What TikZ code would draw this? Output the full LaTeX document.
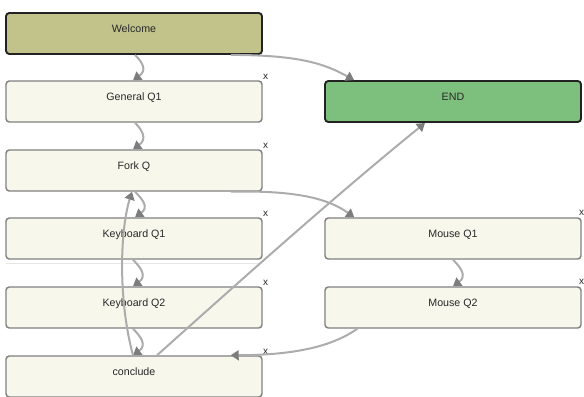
\documentclass[tikz,border=0pt]{standalone}
\usepackage{fontspec}
\setmainfont{Liberation Sans}
\usetikzlibrary{arrows.meta,calc}

\definecolor{welfill}{RGB}{194,194,139}
\definecolor{endfill}{RGB}{125,191,125}
\definecolor{qfill}{RGB}{247,247,236}
\definecolor{qborder}{RGB}{128,128,128}
\definecolor{dborder}{RGB}{34,34,34}
\definecolor{linkgray}{RGB}{172,172,172}
\definecolor{tipgray}{RGB}{125,125,125}
\definecolor{txt}{RGB}{40,40,40}
\definecolor{sepgray}{RGB}{230,230,230}

\begin{document}
\begin{tikzpicture}[x=0.75pt,y=-0.75pt,
  box/.style={rectangle, rounded corners=2.5pt, minimum width=192pt,
    minimum height=30.75pt, inner sep=0pt, font=\fontsize{8}{9}\selectfont,
    text=txt, text height=5pt, text depth=5.8pt},
  qbox/.style={box, draw=qborder, fill=qfill, line width=1.1pt},
  kbox/.style={box, draw=dborder, line width=1.4pt},
  conn/.style={draw=linkgray, line width=1.5pt,
    -{Triangle[length=6pt,width=7.5pt,color=tipgray]}},
  xmark/.style={font=\fontsize{7.5}{8}\selectfont, text=txt, inner sep=0pt},
  sepline/.style={draw=sepgray, line width=0.8pt}
]
\useasboundingbox (0,0) rectangle (584,396);

% question boxes
\node[kbox, fill=welfill] (wel) at (134,33.5) {Welcome};
\node[qbox] (gq)  at (134,101.5) {General Q1};
\node[qbox] (fq)  at (134,170.5) {Fork Q};
\node[qbox] (kq1) at (134,238.5) {Keyboard Q1};
\node[qbox] (kq2) at (134,307.5) {Keyboard Q2};
\node[qbox] (con) at (134,376.5) {conclude};
\node[kbox, fill=endfill] (fin) at (453,101.5) {END};
\node[qbox] (mq1) at (453,238.5) {Mouse Q1};
\node[qbox] (mq2) at (453,307.5) {Mouse Q2};

% delete marks
\foreach \n in {gq,fq,kq1,kq2,con}
  \node[xmark] (x\n) at ($(\n.north east)+(3,-3)$) {x};
\foreach \n in {mq1,mq2}
  \node[xmark] (x\n) at ($(\n.north east)+(0,-4)$) {x};

% faint rule under Keyboard Q1
\draw[sepline] ($(kq1.south west)+(1,4)$) -- ($(kq1.south east)+(-2,4)$);

% links
\draw[conn] ($(wel.south)+(1,0)$) .. controls +(8,8) and +(14,-10) .. ($(gq.north)+(-1,0)$);
\draw[conn] ($(gq.south)+(1,0)$) .. controls +(8,8) and +(14,-10) .. ($(fq.north)+(-1,0)$);
\draw[conn] ($(fq.south)+(1,0)$) .. controls +(8,8) and +(14,-10) .. ($(kq1.north)+(1,0)$);
\draw[conn] ($(kq1.south)+(-1,0)$) .. controls +(8,8) and +(14,-10) .. ($(kq2.north)+(-1,0)$);
\draw[conn] ($(kq2.south)+(-1,0)$) .. controls +(8,8) and +(14,-10) .. ($(con.north)+(-1,0)$);
\draw[conn] ($(mq1.south)+(0,0)$) .. controls +(8,8) and +(14,-10) .. ($(mq2.north)+(0,0)$);

\draw[conn] ($(con.north)+(-1,0)$) .. controls (118,300) and (120,230) .. ($(fq.south)+(-2,0)$);
\draw[conn] ($(con.north)+(23,0)$) .. controls (230,290) and (330,200) .. ($(fin.south)+(-28,0)$);
\draw[conn] ($(wel.south east)+(-32,0)$) .. controls (300,55) and (325,64) .. ($(fin.north west)+(30,0)$);
\draw[conn] ($(fq.south east)+(-32,0)$) .. controls (300,190) and (330,200) .. ($(mq1.north west)+(30,0)$);
\draw[conn] ($(mq2.south west)+(33,0)$) .. controls (330,348) and (290,355) .. ($(con.north east)+(-32,0)$);
\end{tikzpicture}
\end{document}
